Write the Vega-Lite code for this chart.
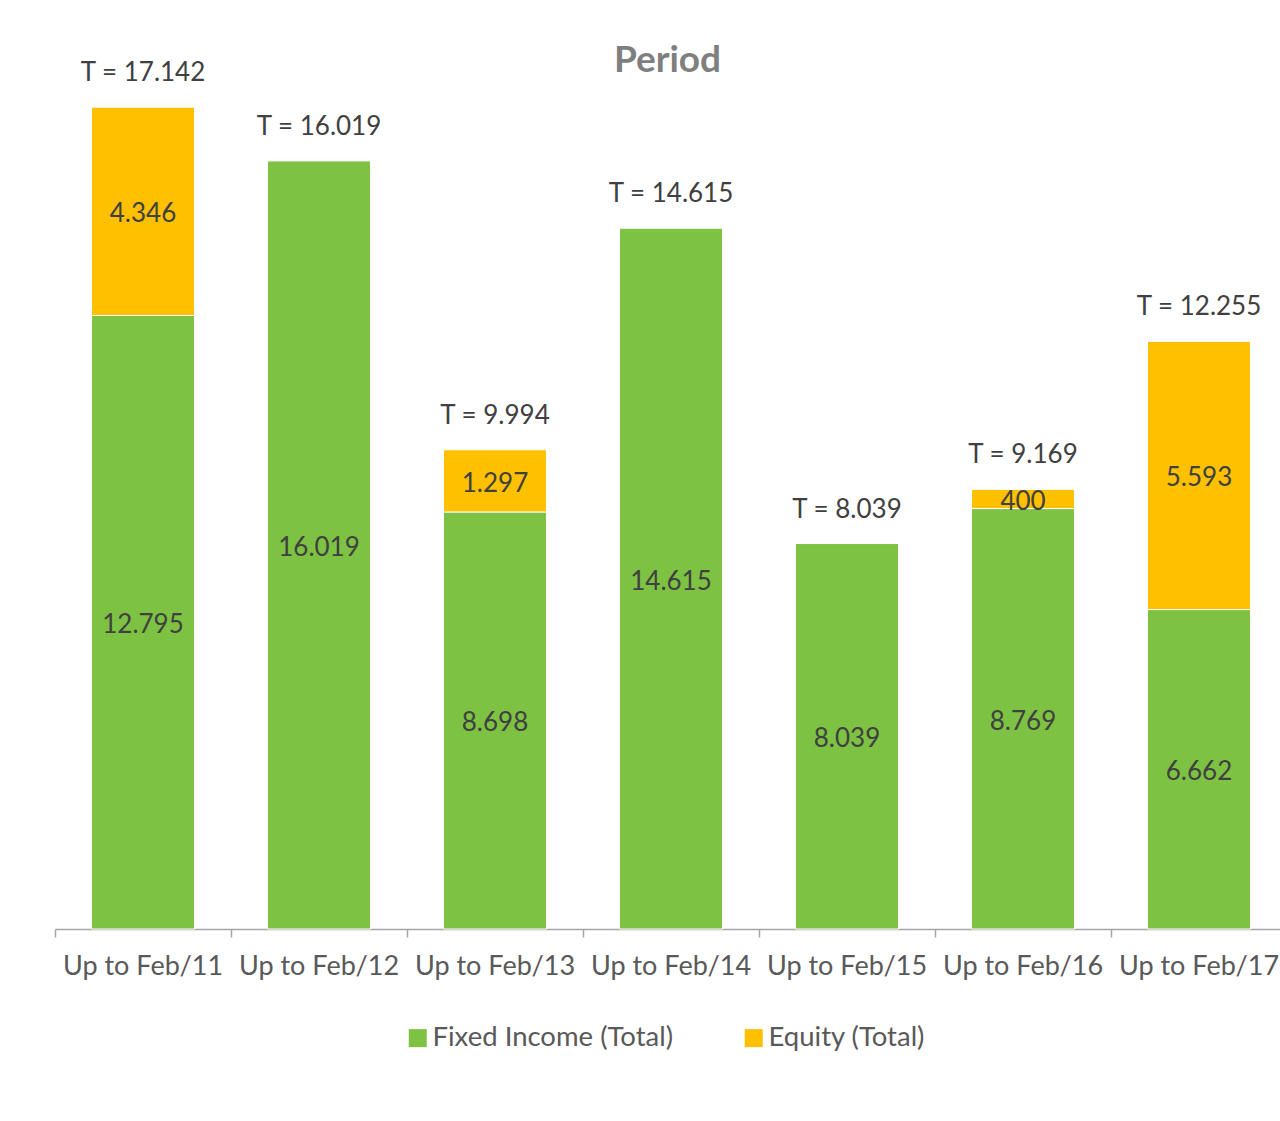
{
  "$schema": "https://vega.github.io/schema/vega-lite/v6.json",
  "width": 1225,
  "height": 911,
  "autosize": {"type": "none"},
  "padding": {"left": 55, "top": 18, "right": 0, "bottom": 192},
  "background": "white",
  "title": {
    "text": "Period",
    "font": "Lato",
    "fontSize": 37,
    "fontWeight": "bold",
    "color": "#7f7f7f",
    "anchor": "middle",
    "frame": "group",
    "baseline": "alphabetic",
    "offset": -91
  },
  "datasets": {
    "segments": [
      {"period": "Up to Feb/11", "series": "Fixed Income (Total)", "value": 12795},
      {"period": "Up to Feb/11", "series": "Equity (Total)", "value": 4346},
      {"period": "Up to Feb/12", "series": "Fixed Income (Total)", "value": 16019},
      {"period": "Up to Feb/13", "series": "Fixed Income (Total)", "value": 8698},
      {"period": "Up to Feb/13", "series": "Equity (Total)", "value": 1297},
      {"period": "Up to Feb/14", "series": "Fixed Income (Total)", "value": 14615},
      {"period": "Up to Feb/15", "series": "Fixed Income (Total)", "value": 8039},
      {"period": "Up to Feb/16", "series": "Fixed Income (Total)", "value": 8769},
      {"period": "Up to Feb/16", "series": "Equity (Total)", "value": 400},
      {"period": "Up to Feb/17", "series": "Fixed Income (Total)", "value": 6662},
      {"period": "Up to Feb/17", "series": "Equity (Total)", "value": 5593}
    ],
    "totals": [
      {"period": "Up to Feb/11", "total": 17142, "label": "T = 17.142"},
      {"period": "Up to Feb/12", "total": 16019, "label": "T = 16.019"},
      {"period": "Up to Feb/13", "total": 9994, "label": "T = 9.994"},
      {"period": "Up to Feb/14", "total": 14615, "label": "T = 14.615"},
      {"period": "Up to Feb/15", "total": 8039, "label": "T = 8.039"},
      {"period": "Up to Feb/16", "total": 9169, "label": "T = 9.169"},
      {"period": "Up to Feb/17", "total": 12255, "label": "T = 12.255"}
    ]
  },
  "encoding": {
    "x": {
      "field": "period",
      "type": "nominal",
      "sort": null,
      "scale": {"range": [0, 1232], "paddingInner": 0.415, "paddingOuter": 0.2075},
      "axis": {
        "title": null,
        "labelAngle": 0,
        "labelFont": "Lato",
        "labelFontSize": 27,
        "labelColor": "#595959",
        "labelPadding": 16,
        "labelOverlap": false,
        "labelLimit": 300,
        "domainColor": "#a6a6a6",
        "domainWidth": 1.5,
        "tickColor": "#a6a6a6",
        "tickWidth": 1.5,
        "tickSize": 8,
        "bandPosition": -0.3547
      }
    }
  },
  "layer": [
    {
      "data": {"name": "segments"},
      "transform": [
        {"stack": "value", "groupby": ["period"], "sort": [{"field": "series", "order": "descending"}], "as": ["y0", "y1"]}
      ],
      "mark": {"type": "bar", "stroke": "white", "strokeWidth": 1},
      "encoding": {
        "y": {"field": "y0", "type": "quantitative", "scale": {"domain": [0, 19000], "nice": false}, "axis": null},
        "y2": {"field": "y1"},
        "color": {
          "field": "series",
          "type": "nominal",
          "scale": {"domain": ["Fixed Income (Total)", "Equity (Total)"], "range": ["#7dc242", "#ffc000"]},
          "legend": {
            "title": null,
            "orient": "none",
            "legendX": 349,
            "legendY": 1006,
            "direction": "horizontal",
            "symbolType": "square",
            "symbolSize": 324,
            "symbolStrokeWidth": 0,
            "labelFont": "Lato",
            "labelFontSize": 27.5,
            "labelColor": "#595959",
            "labelOffset": 1,
            "columnPadding": 66,
            "labelLimit": 400
          }
        }
      }
    },
    {
      "data": {"name": "segments"},
      "transform": [
        {"stack": "value", "groupby": ["period"], "sort": [{"field": "series", "order": "descending"}], "as": ["y0", "y1"]},
        {"calculate": "(datum.y0 + datum.y1) / 2", "as": "ymid"}
      ],
      "mark": {"type": "text", "font": "Lato", "fontSize": 26, "color": "#404040", "baseline": "middle", "align": "center", "dy": 3},
      "encoding": {
        "y": {"field": "ymid", "type": "quantitative"},
        "text": {"field": "value", "type": "quantitative", "format": ",d"}
      }
    },
    {
      "data": {"name": "totals"},
      "mark": {"type": "text", "font": "Lato", "fontSize": 26, "color": "#404040", "baseline": "alphabetic", "align": "center", "dy": -26},
      "encoding": {
        "y": {"field": "total", "type": "quantitative"},
        "text": {"field": "label", "type": "nominal"}
      }
    }
  ],
  "config": {
    "view": {"stroke": null},
    "locale": {"number": {"decimal": ",", "thousands": ".", "grouping": [3], "currency": ["", ""]}}
  }
}
